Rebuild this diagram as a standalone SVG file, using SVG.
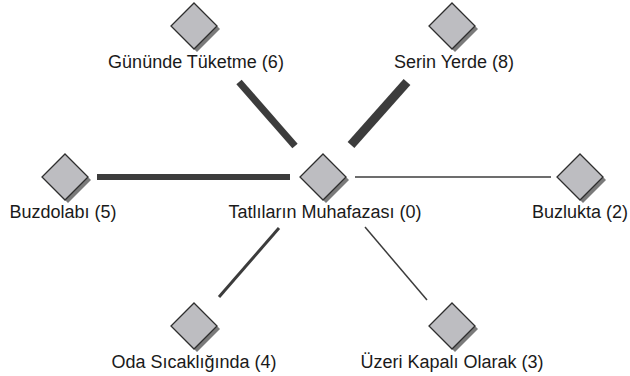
<svg xmlns="http://www.w3.org/2000/svg" width="630" height="376" viewBox="0 0 630 376">
<defs>
<style>
.lbl{font-family:"Liberation Sans",Arial,sans-serif;font-size:18px;fill:#1a1a1a;text-anchor:middle}
.sh{fill:#7a7a7a}
.dm{fill:#bdbdc1;stroke:#2e2e2e;stroke-width:1.3}
.ln{stroke:#3c3c3c;fill:none;stroke-linecap:butt}
</style>
<g id="diamond">
<polygon class="sh" points="3,-20 26,3 3,26 -20,3"/>
<polygon class="dm" points="0,-23 23,0 0,23 -23,0"/>
</g>
</defs>
<rect width="630" height="376" fill="#ffffff"/>
<g id="connectors">
<line class="ln" x1="239" y1="82" x2="295" y2="146" stroke-width="7"/>
<line class="ln" x1="407" y1="82" x2="351" y2="145" stroke-width="9"/>
<line class="ln" x1="97" y1="177" x2="290" y2="177" stroke-width="6"/>
<line class="ln" x1="355" y1="177" x2="551" y2="177" stroke-width="1.5"/>
<line class="ln" x1="279" y1="228" x2="219" y2="297" stroke-width="3"/>
<line class="ln" x1="365" y1="227" x2="427" y2="300" stroke-width="1.5"/>
</g>
<g id="n0"><use href="#diamond" x="323" y="177"/><text class="lbl" x="325" y="218">Tatlıların Muhafazası (0)</text></g>
<g id="n6"><use href="#diamond" x="194" y="26"/><text class="lbl" x="196" y="68">Gününde Tüketme (6)</text></g>
<g id="n8"><use href="#diamond" x="452" y="26"/><text class="lbl" x="454" y="68">Serin Yerde (8)</text></g>
<g id="n5"><use href="#diamond" x="65" y="177"/><text class="lbl" x="63" y="218">Buzdolabı (5)</text></g>
<g id="n2"><use href="#diamond" x="580" y="177"/><text class="lbl" x="580" y="218">Buzlukta (2)</text></g>
<g id="n4"><use href="#diamond" x="194" y="326"/><text class="lbl" x="194" y="368">Oda Sıcaklığında (4)</text></g>
<g id="n3"><use href="#diamond" x="452" y="326"/><text class="lbl" x="452" y="368">Üzeri Kapalı Olarak (3)</text></g>
</svg>
